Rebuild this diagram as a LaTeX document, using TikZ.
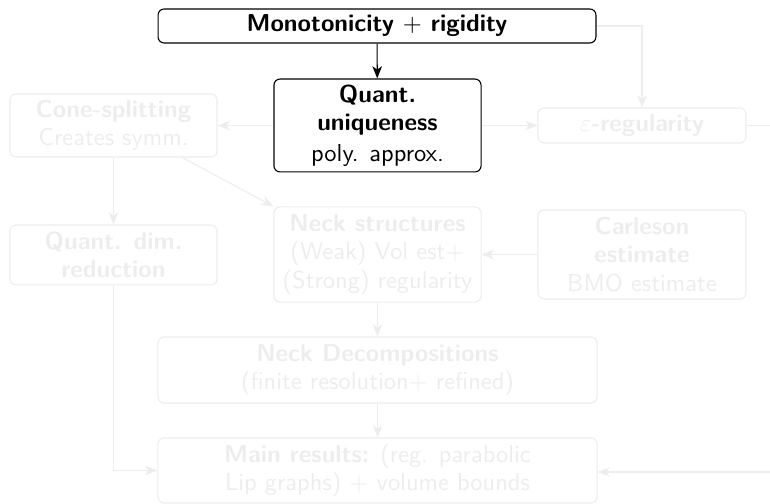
\documentclass[tikz,border=0pt]{standalone}
\usetikzlibrary{arrows.meta}
\definecolor{faded}{gray}{0.93}
\begin{document}
\begin{tikzpicture}[
  x=0.409pt, y=-0.409pt,
  >={Stealth[length=5pt,width=3.9pt,inset=1.4pt]},
  box/.style={draw, rounded corners=2.5pt, line width=0.45pt, inner sep=0pt,
    align=center, font=\sffamily\fontsize{10}{11.75}\selectfont},
  active/.style={box, draw=black, text=black},
  dim/.style={box, draw=faded, text=faded},
  link/.style={->, line width=0.45pt, draw=black},
  dimlink/.style={->, line width=0.45pt, draw=faded},
]
\useasboundingbox (0,0) rectangle (770,504);

% highlighted step
\node[active, minimum width=179.1pt, minimum height=13.9pt] (mono) at (377,26)
  {\textbf{Monotonicity $+$ rigidity}};
\node[active, minimum width=84.7pt, minimum height=38pt] (quant) at (377.5,125.5)
  {\textbf{Quant.}\\[-0.15pt]\textbf{uniqueness}\\[0.95pt]poly. approx.};

% remaining steps, greyed out
\node[dim, minimum width=84.7pt, minimum height=25.8pt] (cone) at (113.5,125.5)
  {\textbf{Cone-splitting}\\Creates symm.};
\node[dim, minimum width=85.1pt, minimum height=14.3pt] (eps) at (642,125.5)
  {$\varepsilon$\textbf{-regularity}};
\node[dim, minimum width=84.7pt, minimum height=24.5pt] (qdim) at (113.5,255)
  {\textbf{Quant. dim.}\\\textbf{reduction}};
\node[dim, minimum width=84.7pt, minimum height=38.9pt] (neck) at (377.5,254.5)
  {\textbf{Neck structures}\\(Weak) Vol est$+$\\(Strong) regularity};
\node[dim, minimum width=85.1pt, minimum height=36.4pt] (carl) at (642,254.5)
  {\textbf{Carleson}\\\textbf{estimate}\\BMO estimate};
\node[dim, minimum width=179.6pt, minimum height=27pt] (ndec) at (377.5,370)
  {\textbf{Neck Decompositions}\\(finite resolution$+$ refined)};
\node[dim, minimum width=179.6pt, minimum height=26.6pt] (main) at (377.5,470.5)
  {\textbf{Main results:} (reg. parabolic\\Lip graphs) $+$ volume bounds};

% loose ends at the right border
\coordinate (epsout) at (770,125.5);
\coordinate (mainin) at (770,472);

% connectors
\draw[link] (mono) -- (quant);
\draw[dimlink] (mono.east) -| (eps.north);
\draw[dimlink] (quant) -- (cone);
\draw[dimlink] (quant) -- (eps);
\draw[line width=0.45pt, draw=faded] (eps) -- (epsout);
\draw[dimlink] (cone) -- (qdim);
\draw[dimlink] (cone.-25) -- (neck.north west);
\draw[dimlink] (qdim.south) |- (main.west);
\draw[dimlink] (carl) -- (neck);
\draw[dimlink] (neck) -- (ndec);
\draw[dimlink] (ndec) -- (main);
\draw[dimlink] (mainin) -- (main.east |- mainin);
\end{tikzpicture}
\end{document}
